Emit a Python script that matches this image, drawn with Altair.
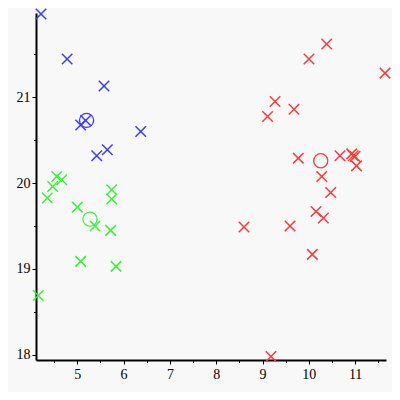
import altair as alt
import pandas as pd

# Cluster points
blue_x = [4.216, 4.78, 5.577, 5.073, 5.18, 6.37, 5.42, 5.648]
blue_y = [21.969, 21.445, 21.131, 20.677, 20.728, 20.60, 20.317, 20.387]

green_x = [4.555, 4.663, 4.469, 4.352, 5.743, 5.743, 5.0, 5.382, 5.72, 5.073, 5.836, 4.158]
green_y = [20.077, 20.038, 19.96, 19.826, 19.922, 19.814, 19.72, 19.5, 19.449, 19.088, 19.03, 18.69]

red_x = [10.386, 10.004, 11.646, 9.27, 9.68, 9.11, 9.773, 10.674, 10.926, 10.96, 10.998,
         11.03, 10.279, 10.473, 10.156, 10.313, 9.594, 8.6, 10.076, 9.183]
red_y = [21.62, 21.445, 21.28, 20.95, 20.86, 20.775, 20.29, 20.317, 20.34, 20.317, 20.31,
         20.2, 20.077, 19.89, 19.67, 19.593, 19.5, 19.488, 19.17, 17.98]

# Centroids
cent_group = ["blue", "green", "red"]
cent_x = [5.2, 5.274, 10.257]
cent_y = [20.73, 19.58, 20.26]

groups = ["blue", "green", "red"]
colors = ["#3b3bff", "#3ef03e", "#ff3b3b"]

pts = pd.DataFrame({
    "x": blue_x + green_x + red_x,
    "y": blue_y + green_y + red_y,
    "g": ["blue"] * len(blue_x) + ["green"] * len(green_x) + ["red"] * len(red_x),
})
cents = pd.DataFrame({"x": cent_x, "y": cent_y, "g": cent_group})

XD = [4.108, 11.667]
YD = [17.94, 21.98]
major_x = [5, 6, 7, 8, 9, 10, 11]
minor_x = [4.5, 5.5, 6.5, 7.5, 8.5, 9.5, 10.5, 11.5]
major_y = [18, 19, 20, 21]
minor_y = [18.5, 19.5, 20.5, 21.5]

font = "Liberation Serif"
xs = alt.Scale(domain=XD, nice=False, zero=False)
ys = alt.Scale(domain=YD, nice=False, zero=False)
cs = alt.Scale(domain=groups, range=colors)

xaxis = alt.Axis(values=major_x, grid=False, domainColor="black", domainWidth=2,
                 tickColor="black", tickSize=4, tickWidth=1, labelFont=font,
                 labelFontSize=14, labelColor="black", labelPadding=3, title=None,
                 orient="bottom", format="d")
yaxis = alt.Axis(values=major_y, grid=False, domainColor="black", domainWidth=2,
                 tickColor="black", tickSize=4, tickWidth=1, labelFont=font,
                 labelFontSize=14, labelColor="black", labelPadding=2, title=None,
                 orient="left", format="d")
xminor = alt.Axis(values=minor_x, grid=False, domain=False, labels=False,
                  tickColor="black", tickSize=2.5, tickWidth=1, title=None, orient="bottom")
yminor = alt.Axis(values=minor_y, grid=False, domain=False, labels=False,
                  tickColor="black", tickSize=2.5, tickWidth=1, title=None, orient="left")

xshape = "M-1,-1L1,1M1,-1L-1,1"

crosses = alt.Chart(pts).mark_point(shape=xshape, filled=False, strokeWidth=1.5,
                                    size=110, opacity=1).encode(
    x=alt.X("x:Q", scale=xs, axis=xaxis),
    y=alt.Y("y:Q", scale=ys, axis=yaxis),
    color=alt.Color("g:N", scale=cs, legend=None),
)

circles = alt.Chart(cents).mark_point(shape="circle", filled=False, strokeWidth=1.3,
                                      size=200, opacity=1).encode(
    x=alt.X("x:Q", scale=xs, axis=xminor),
    y=alt.Y("y:Q", scale=ys, axis=yminor),
    color=alt.Color("g:N", scale=cs, legend=None),
)

chart = alt.layer(crosses, circles).resolve_axis(x="independent", y="independent").properties(
    width=350, height=347,
    autosize=alt.AutoSizeParams(type="none"),
    padding={"left": 28, "top": 5, "right": 6, "bottom": 32},
    background="#f8f8f8",
).configure_view(stroke=None)

chart.save("out.html", embed_options={"renderer": "svg", "actions": False})
